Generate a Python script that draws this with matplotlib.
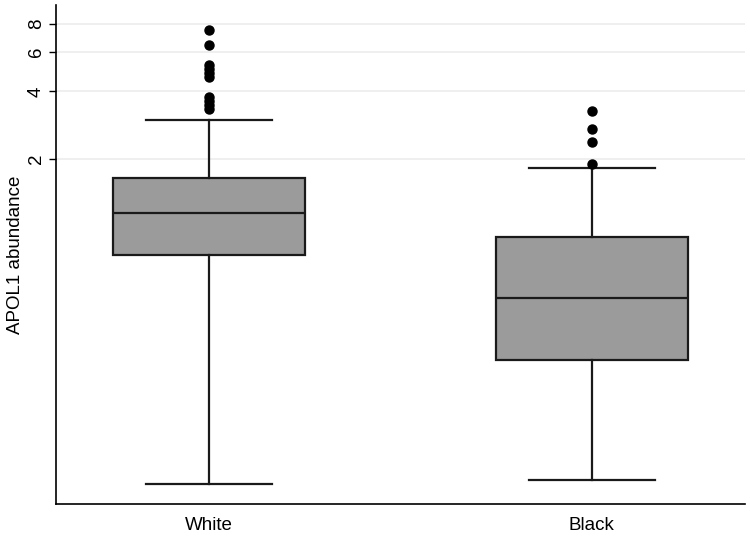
import matplotlib
matplotlib.use("Agg")
import matplotlib.pyplot as plt
from matplotlib.ticker import FixedLocator, NullLocator

plt.rcParams['font.family'] = ['Liberation Sans', 'DejaVu Sans']

groups = ["White", "Black"]
q1 = [0.747, 0.254]
median = [1.149, 0.480]
q3 = [1.646, 0.899]
whis_lo = [0.0713, 0.074]
whis_hi = [2.985, 1.82]
fliers = [
    [7.52, 6.45, 5.25, 5.04, 4.84, 4.64, 3.78, 3.63, 3.48, 3.34],
    [3.27, 2.72, 2.38, 1.90],
]
yticks = [2, 4, 6, 8]

stats = []
for i, g in enumerate(groups):
    stats.append(dict(label=g, q1=q1[i], med=median[i], q3=q3[i],
                      whislo=whis_lo[i], whishi=whis_hi[i], fliers=fliers[i]))

fig = plt.figure(figsize=(7.5, 5.36), dpi=100)
ax = fig.add_axes([0.0747, 0.0597, 0.9186, 0.931])

ax.bxp(stats, positions=[1, 2], widths=0.5, patch_artist=True,
       showcaps=True,
       boxprops=dict(facecolor='#9b9b9b', edgecolor='#1a1a1a', linewidth=1.6),
       medianprops=dict(color='#1a1a1a', linewidth=1.6),
       whiskerprops=dict(color='#1a1a1a', linewidth=1.6),
       capprops=dict(color='#1a1a1a', linewidth=1.6),
       capwidths=0.33,
       flierprops=dict(marker='o', markerfacecolor='black', markeredgecolor='black',
                       markersize=6.5))

ax.set_yscale('log', base=2)
ax.set_ylim(0.058, 9.72)
ax.set_xlim(0.6, 2.4)
ax.yaxis.set_major_locator(FixedLocator(yticks))
ax.yaxis.set_minor_locator(NullLocator())
ax.set_yticklabels([str(t) for t in yticks], rotation=90, va='center', fontsize=13.5)
ax.set_xticks([1, 2])
ax.set_xticklabels(groups, fontsize=13.5)
ax.tick_params(axis='x', length=0, pad=9)
ax.tick_params(axis='y', length=5, width=1, pad=3)
ax.grid(axis='y', color='#ececec', linewidth=1.2)
ax.set_axisbelow(True)
for s in ['top', 'right']:
    ax.spines[s].set_visible(False)
for s in ['left', 'bottom']:
    ax.spines[s].set_linewidth(1.2)
ax.set_ylabel("APOL1 abundance", fontsize=13.5, labelpad=3)

plt.savefig("out.png", dpi=100)
